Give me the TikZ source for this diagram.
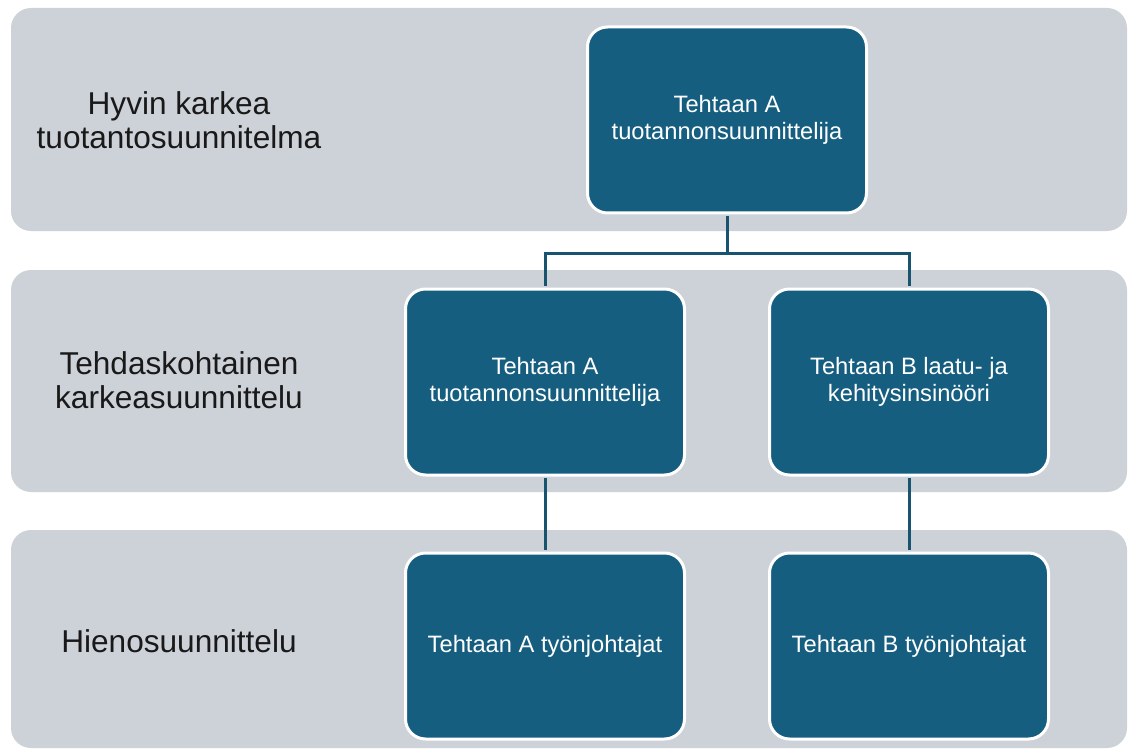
\documentclass[tikz,border=0pt]{standalone}
\usepackage{fontspec}
\setmainfont{Liberation Sans}
\definecolor{bandgray}{RGB}{205,209,216}
\definecolor{roleblue}{RGB}{22,94,128}
\definecolor{linkblue}{RGB}{24,84,112}
\begin{document}
\begin{tikzpicture}[x=1pt,y=-1pt,
  band/.style={fill=bandgray, rounded corners=20pt},
  role/.style={draw=white, line width=3pt, fill=roleblue, rounded corners=20pt,
    minimum width=279pt, minimum height=186pt, inner sep=0pt,
    text=white, align=center, font=\fontsize{23.7}{27}\selectfont},
  level/.style={align=center, text=black!90, font=\fontsize{31.6}{34}\selectfont},
  link/.style={draw=linkblue, line width=3pt, shorten <=1.5pt, shorten >=1.5pt}]
\useasboundingbox (0,0) rectangle (1128,749);

% planning levels
\fill[band] (11,8) rectangle (1127,231);
\fill[band] (11,270) rectangle (1127,492);
\fill[band] (11,530) rectangle (1127,748);

\node[level] (lvlone) at (179,120) {Hyvin karkea\\tuotantosuunnitelma};
\node[level] (lvltwo) at (179,380) {Tehdaskohtainen\\karkeasuunnittelu};
\node[level] (lvlthree) at (179,641) {Hienosuunnittelu};

% roles
\node[role] (top) at (727,120) {Tehtaan A\\tuotannonsuunnittelija};
\node[role] (ma) at (545,382) {Tehtaan A\\tuotannonsuunnittelija};
\node[role] (mb) at (909,382) {Tehtaan B laatu- ja\\kehitysinsinööri};
\node[role] (la) at (545,646) {Tehtaan A työnjohtajat};
\node[role] (lb) at (909,646) {Tehtaan B työnjohtajat};

% reporting lines
\draw[link] (top.south) -- ++(0,39) -| (ma.north);
\draw[link] (top.south) -- ++(0,39) -| (mb.north);
\draw[link] (ma.south) -- (la.north);
\draw[link] (mb.south) -- (lb.north);
\end{tikzpicture}
\end{document}
